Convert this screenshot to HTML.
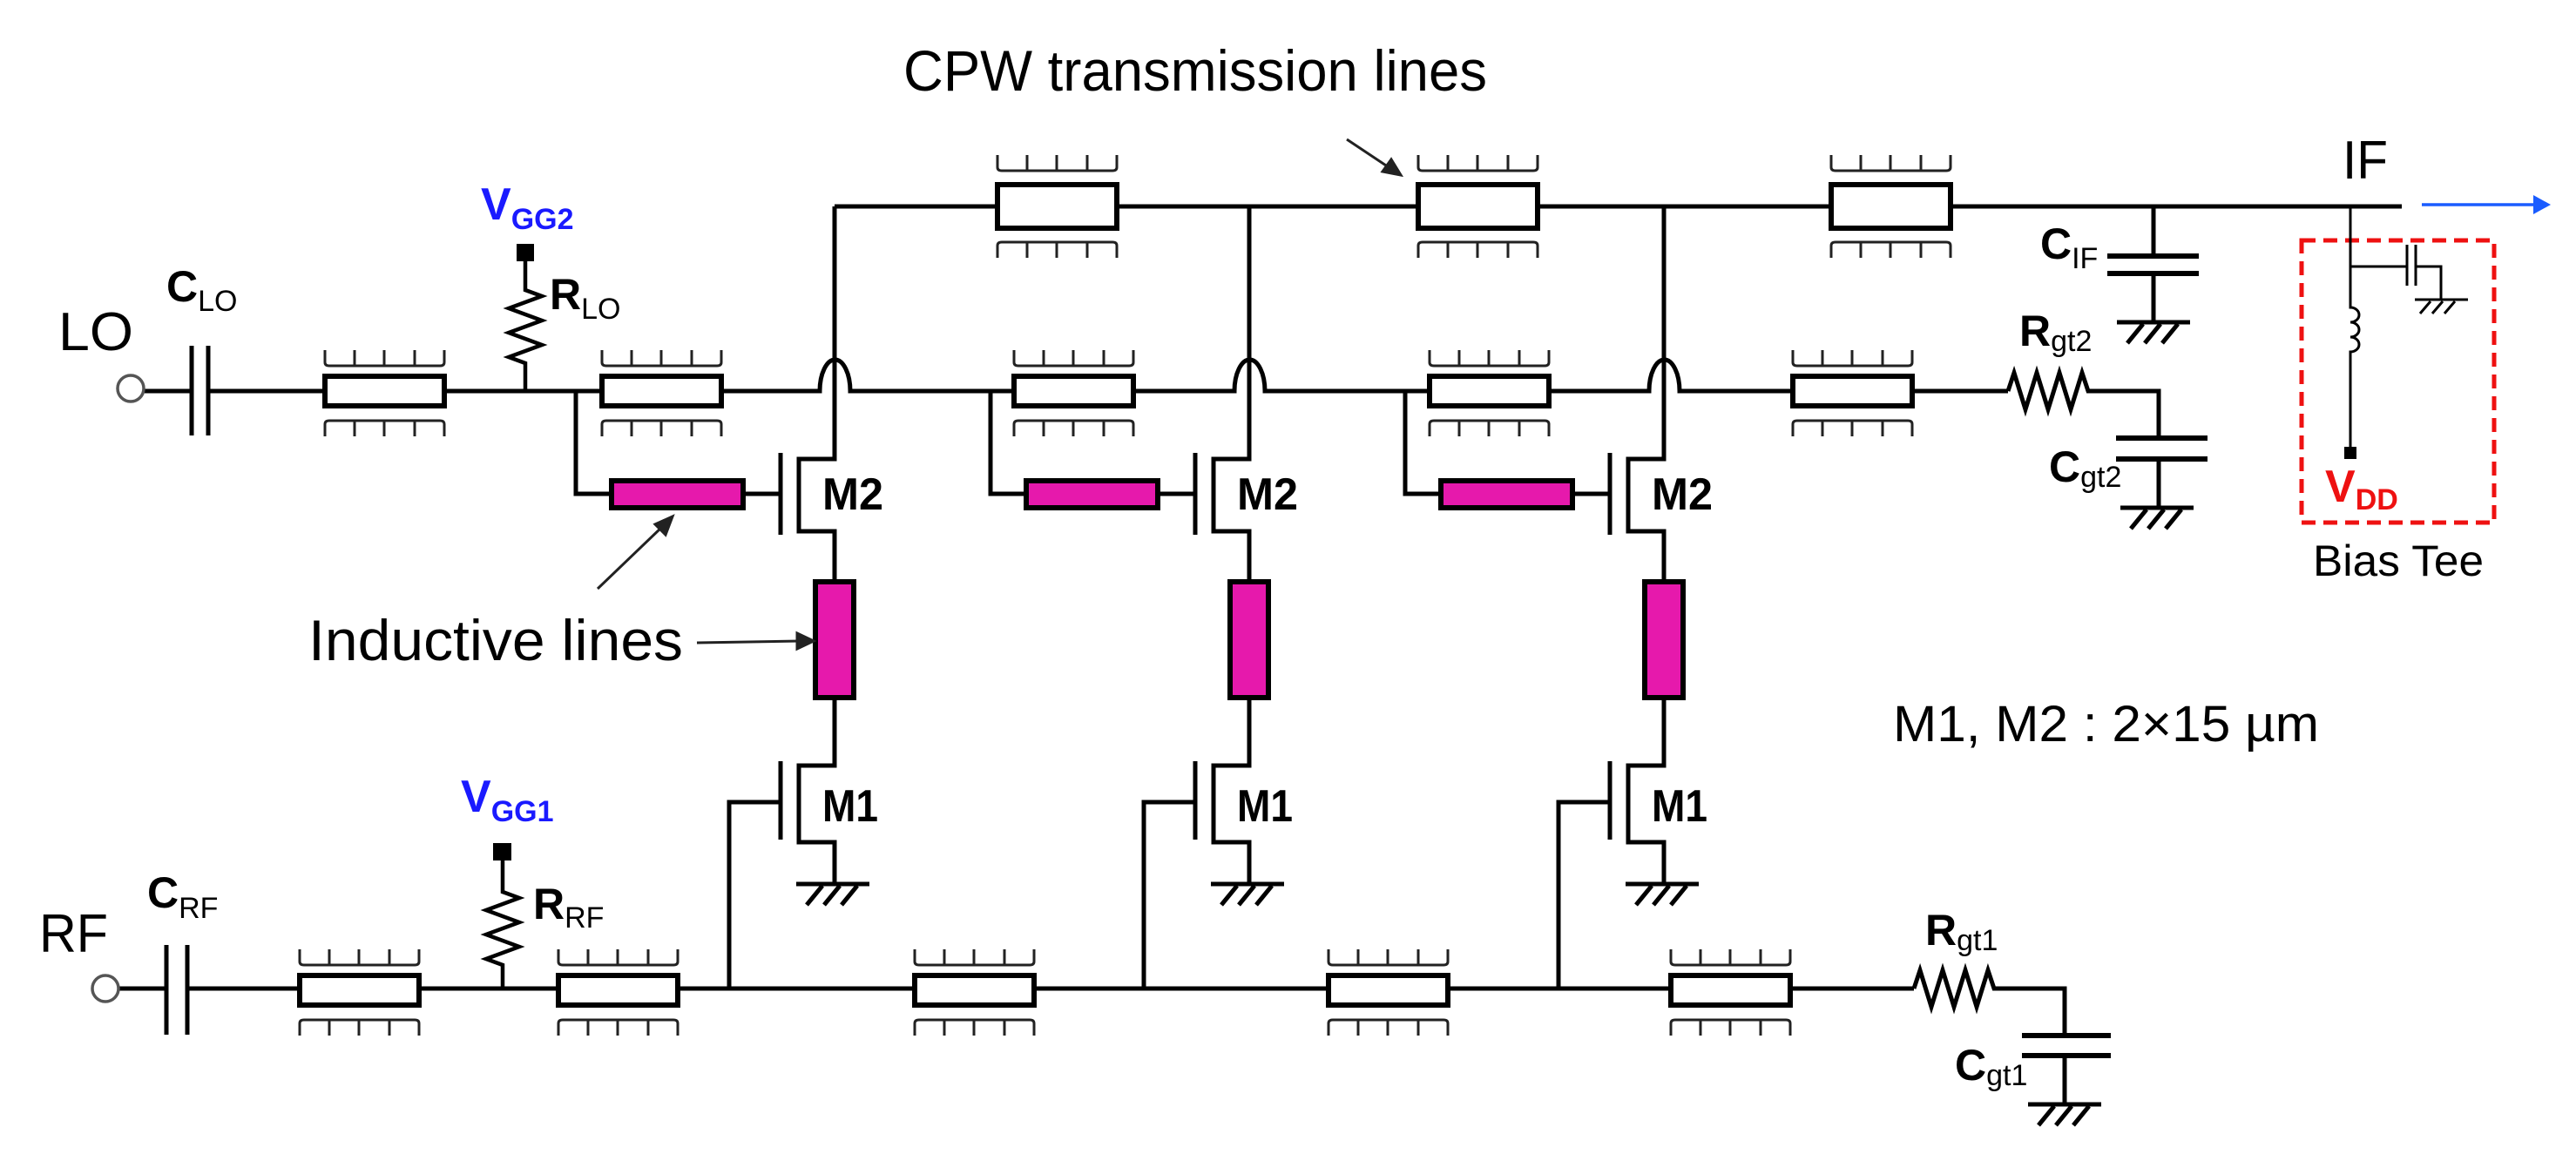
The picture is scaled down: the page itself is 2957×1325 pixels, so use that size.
<!DOCTYPE html>
<html><head><meta charset="utf-8"><style>
html,body{margin:0;padding:0;background:#fff;}
svg{display:block;}
text{font-family:"Liberation Sans",Arial,sans-serif;}
.b{font-weight:bold;}
</style></head><body>
<svg width="2957" height="1325" viewBox="0 0 2957 1325" xmlns="http://www.w3.org/2000/svg">
<defs>
  <g id="combT"><path d="M0,-47 V-33 Q0,-29 5,-29 H132 Q137,-29 137,-33 V-47 M34,-29 V-47 M68,-29 V-47 M103,-29 V-47" fill="none" stroke="#222" stroke-width="3"/></g>
  <g id="tl">
    <rect x="0" y="-17" width="137" height="34" fill="#fff" stroke="#000" stroke-width="6"/>
    <use href="#combT"/>
    <use href="#combT" transform="translate(0,5) scale(1,-1)"/>
  </g>
  <g id="tlTop">
    <rect x="0" y="-25" width="137" height="50" fill="#fff" stroke="#000" stroke-width="6"/>
    <use href="#combT" transform="translate(0,-12)"/>
    <use href="#combT" transform="translate(0,12) scale(1,-1)"/>
  </g>
  <g id="gnd" fill="none" stroke="#000" stroke-width="5">
    <path d="M-44,0 H40"/>
    <path d="M-14,2 L-32,24 M6,2 L-12,24 M26,2 L8,24"/>
  </g>
  <g id="stage" fill="none" stroke="#000" stroke-width="5">
    <path d="M0,237 V527 H-41 V610 H0 V668 M0,801 V879 H-41 V967 H0 V1015"/>
    <path d="M-62,520 V614 M-62,874 V964"/>
    <path d="M-62,567 H-105 M-256,567 H-297 V449 M-62,921 H-121 V1135"/>
    <rect x="-256" y="552" width="151" height="31" fill="#e619ac" stroke-width="6"/>
    <rect x="-22" y="668" width="44" height="133" fill="#e619ac" stroke-width="6"/>
    <use href="#gnd" transform="translate(0,1015)"/>
    <text x="-14" y="585" font-size="52" class="b" fill="#000" stroke="none" textLength="70" lengthAdjust="spacingAndGlyphs">M2</text>
    <text x="-14" y="943" font-size="52" class="b" fill="#000" stroke="none" textLength="64" lengthAdjust="spacingAndGlyphs">M1</text>
  </g>
</defs>

<use href="#stage" transform="translate(958,0)"/>
<use href="#stage" transform="translate(1434,0)"/>
<use href="#stage" transform="translate(1910,0)"/>

<g fill="none" stroke="#000" stroke-width="5">
  <path d="M958,237 H2757"/>
  <path d="M166,449 H220 M239,449 H941 A17.5,36 0 0 1 976,449 H1417 A17.5,36 0 0 1 1452,449 H1893 A17.5,36 0 0 1 1928,449 H2305"/>
  <path d="M2305,449 l7,-21 l13,42 l13,-42 l13,42 l13,-42 l13,42 l13,-42 l7,21 H2478 V503"/>
  <path d="M2429,503 H2534 M2429,527 H2534" stroke-width="6"/>
  <path d="M2478,527 V583"/>
  <use href="#gnd" transform="translate(2478,583)"/>
  <path d="M220,397 V500 M239,397 V500"/>
  <path d="M603,449 V417 l-19,-7 l38,-14 l-38,-14 l38,-14 l-38,-14 l38,-14 l-19,-7 V300" stroke-width="4.5"/>
  <path d="M2472,237 V294 M2472,314 V370"/>
  <path d="M2419,294 H2524 M2419,314 H2524" stroke-width="6"/>
  <use href="#gnd" transform="translate(2474,370)"/>
  <path d="M137,1135 H191 M215,1135 H2197"/>
  <path d="M191,1085 V1188 M215,1085 V1188"/>
  <path d="M2197,1135 l7,-21 l13,42 l13,-42 l13,42 l13,-42 l13,42 l13,-42 l7,21 H2370 V1189"/>
  <path d="M2321,1189 H2423 M2321,1212 H2423" stroke-width="6"/>
  <path d="M2370,1212 V1268"/>
  <use href="#gnd" transform="translate(2372,1268)"/>
  <path d="M577,1135 V1108 l-19,-7 l38,-14 l-38,-14 l38,-14 l-38,-14 l38,-14 l-19,-7 V988" stroke-width="4.5"/>
</g>
<circle cx="150" cy="446" r="15" fill="#fff" stroke="#555" stroke-width="3.5"/>
<circle cx="121" cy="1135" r="15" fill="#fff" stroke="#555" stroke-width="3.5"/>
<rect x="593" y="280" width="20" height="20" fill="#000"/>
<rect x="566" y="968" width="21" height="20" fill="#000"/>

<use href="#tl" transform="translate(373,449)"/>
<use href="#tl" transform="translate(691,449)"/>
<use href="#tl" transform="translate(1164,449)"/>
<use href="#tl" transform="translate(1641,449)"/>
<use href="#tl" transform="translate(2058,449)"/>
<use href="#tlTop" transform="translate(1145,237)"/>
<use href="#tlTop" transform="translate(1628,237)"/>
<use href="#tlTop" transform="translate(2102,237)"/>
<use href="#tl" transform="translate(344,1137)"/>
<use href="#tl" transform="translate(641,1137)"/>
<use href="#tl" transform="translate(1050,1137)"/>
<use href="#tl" transform="translate(1525,1137)"/>
<use href="#tl" transform="translate(1918,1137)"/>

<rect x="2642" y="276" width="221" height="324" fill="none" stroke="#ee1111" stroke-width="5" stroke-dasharray="16,9"/>
<g fill="none" stroke="#000" stroke-width="3">
  <path d="M2698,237 V353 a10,8.5 0 1 1 0,17 a10,8.5 0 1 1 0,17 a10,8.5 0 1 1 0,17 V518"/>
  <path d="M2698,306 H2763 M2763,281 V328 M2773,281 V328 M2773,306 H2802 V344"/>
  <path d="M2772,344 H2833 M2790,346 L2778,360 M2804,346 L2792,360 M2818,346 L2806,360"/>
</g>
<rect x="2691" y="513" width="14" height="14" fill="#000"/>
<path d="M2780,235 H2912" stroke="#1a5cff" stroke-width="3.5"/>
<path d="M2928,235 L2908,224 L2908,246 Z" fill="#1a5cff"/>

<g stroke="#222" stroke-width="3" fill="#222">
  <path d="M1546,160 L1594,192" fill="none"/>
  <path d="M1608,201 L1587,197 L1597,183 Z"/>
  <path d="M800,738 L918,736" fill="none"/>
  <path d="M934,736 L915,727 L915,745 Z"/>
  <path d="M686,676 L760,605" fill="none"/>
  <path d="M772,593 L752,602 L764,614 Z"/>
</g>

<text x="1037" y="104" font-size="66" textLength="670" lengthAdjust="spacingAndGlyphs">CPW transmission lines</text>
<text x="354" y="758" font-size="66" textLength="430" lengthAdjust="spacingAndGlyphs">Inductive lines</text>
<text x="67" y="402" font-size="62" textLength="86" lengthAdjust="spacingAndGlyphs">LO</text>
<text x="45" y="1093" font-size="62" textLength="79" lengthAdjust="spacingAndGlyphs">RF</text>
<text x="2689" y="205" font-size="62" textLength="52" lengthAdjust="spacingAndGlyphs">IF</text>
<text x="2173" y="851" font-size="58" textLength="489" lengthAdjust="spacingAndGlyphs">M1, M2 : 2×15 µm</text>
<text x="2655" y="661" font-size="50" textLength="196" lengthAdjust="spacingAndGlyphs">Bias Tee</text>

<text x="191" y="346" font-size="50" class="b">C<tspan font-size="34" font-weight="normal" dy="11">LO</tspan></text>
<text x="631" y="355" font-size="50" class="b">R<tspan font-size="34" font-weight="normal" dy="11">LO</tspan></text>
<text x="552" y="252" font-size="52" class="b" fill="#1a1aff">V<tspan font-size="34" dy="11">GG2</tspan></text>
<text x="169" y="1042" font-size="50" class="b">C<tspan font-size="34" font-weight="normal" dy="12">RF</tspan></text>
<text x="612" y="1055" font-size="50" class="b">R<tspan font-size="34" font-weight="normal" dy="10">RF</tspan></text>
<text x="529" y="932" font-size="52" class="b" fill="#1a1aff">V<tspan font-size="34" dy="11">GG1</tspan></text>
<text x="2342" y="297" font-size="50" class="b">C<tspan font-size="34" font-weight="normal" dy="11">IF</tspan></text>
<text x="2318" y="397" font-size="50" class="b">R<tspan font-size="34" font-weight="normal" dy="6">gt2</tspan></text>
<text x="2352" y="553" font-size="50" class="b">C<tspan font-size="34" font-weight="normal" dy="6">gt2</tspan></text>
<text x="2669" y="576" font-size="52" class="b" fill="#ee1111">V<tspan font-size="34" dy="9">DD</tspan></text>
<text x="2210" y="1085" font-size="50" class="b">R<tspan font-size="34" font-weight="normal" dy="6">gt1</tspan></text>
<text x="2244" y="1240" font-size="50" class="b">C<tspan font-size="34" font-weight="normal" dy="6">gt1</tspan></text>
</svg>
</body></html>
